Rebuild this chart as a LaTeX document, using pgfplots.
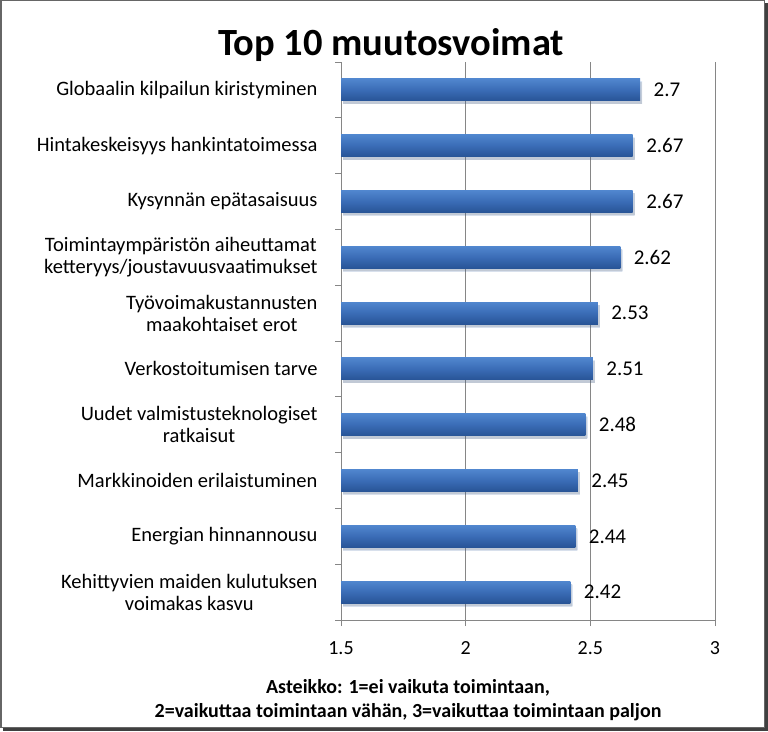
\documentclass[border=0pt]{standalone}
\usepackage{fontspec}
\setmainfont{Carlito}
\usepackage{pgfplots}
\pgfplotsset{compat=1.18}
\usetikzlibrary{shadows}
\definecolor{barblue}{RGB}{58,108,182}
\definecolor{bartop}{RGB}{80,134,206}
\definecolor{barbot}{RGB}{40,84,150}
\definecolor{gridgray}{RGB}{134,134,134}

\begin{document}
\begin{tikzpicture}
\useasboundingbox (0,0) rectangle (768pt,731pt);
% chart frame with shadow
\fill[black!75] (3pt,0) rectangle (768pt,728pt);
\fill[white] (0,3pt) rectangle (765pt,731pt);
\draw[black!60, line width=1.5pt] (0.75pt,3.75pt) rectangle (764.25pt,730.25pt);

\node[font=\fontsize{38.5}{42}\selectfont\bfseries] at (391pt,686pt) {Top 10 muutosvoimat};

\begin{axis}[
  at={(341pt,111pt)}, anchor=south west,
  scale only axis, width=374pt, height=558pt,
  xmin=1.5, xmax=3, ymin=-0.5, ymax=9.5,
  axis x line*=bottom, axis y line*=left,
  axis line style={gridgray, line width=0.8pt},
  xtick={1.5,2,2.5,3},
  xticklabels={1.5,2,2.5,3},
  xmajorgrids, grid style={gridgray, line width=0.8pt},
  x tick style={gridgray, line width=0.8pt},
  tick align=outside, major tick length=6pt,
  xticklabel style={font=\fontsize{20}{24}\selectfont, yshift=-12pt},
  ytick={0,...,9},
  y tick style={draw=none},
  yticklabels={{Kehittyvien maiden kulutuksen\\voimakas kasvu},
    {Energian hinnannousu},
    {Markkinoiden erilaistuminen},
    {Uudet valmistusteknologiset \\ratkaisut},
    {Verkostoitumisen tarve},
    {Työvoimakustannusten\\maakohtaiset erot},
    {Toimintaympäristön aiheuttamat\\ketteryys/joustavuusvaatimukset},
    {Kysynnän epätasaisuus},
    {Hintakeskeisyys hankintatoimessa},
    {Globaalin kilpailun kiristyminen}},
  yticklabel style={font=\fontsize{20.5}{22}\selectfont, align=center, xshift=-14pt},
  extra y ticks={-0.5,0.5,...,9.5},
  extra y tick labels={},
  extra y tick style={y tick style={draw=gridgray, line width=0.8pt}, grid=none},
  xbar, bar width=22pt, bar shift=0pt,
  nodes near coords,
  nodes near coords style={font=\fontsize{21}{24}\selectfont, anchor=west, xshift=10pt, black},
  point meta=explicit symbolic,
  clip=false,
  bars/.style={draw=none, top color=bartop, bottom color=barbot, middle color=barblue,
    drop shadow={shadow xshift=2pt, shadow yshift=-3pt, opacity=0.18, fill=black!60}},
]
\addplot[bars] coordinates {(2.42,0) [2.42]};
\addplot[bars] coordinates {(2.44,1) [2.44]};
\addplot[bars] coordinates {(2.45,2) [2.45]};
\addplot[bars] coordinates {(2.48,3) [2.48]};
\addplot[bars] coordinates {(2.51,4) [2.51]};
\addplot[bars] coordinates {(2.53,5) [2.53]};
\addplot[bars] coordinates {(2.62,6) [2.62]};
\addplot[bars] coordinates {(2.67,7) [2.67]};
\addplot[bars] coordinates {(2.67,8) [2.67]};
\addplot[bars] coordinates {(2.70,9) [2.7]};
\end{axis}

\node[font=\fontsize{20}{24}\selectfont\bfseries, align=center] at (408pt,31pt)
  {Asteikko: 1=ei vaikuta toimintaan,\\2=vaikuttaa toimintaan vähän, 3=vaikuttaa toimintaan paljon};
\end{tikzpicture}
\end{document}
